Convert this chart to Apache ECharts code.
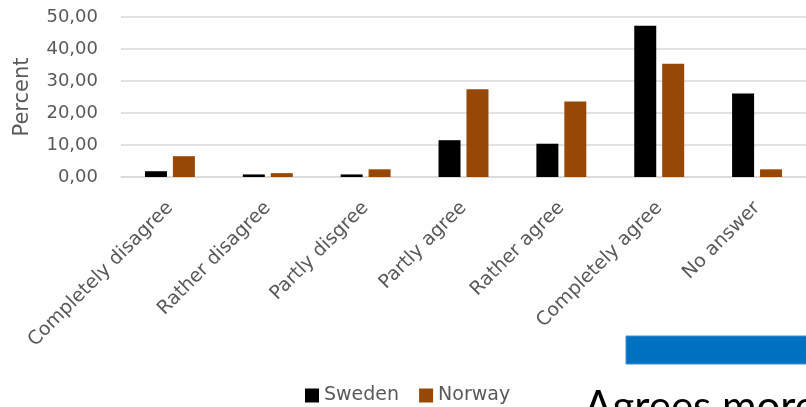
<!DOCTYPE html>
<html><head><meta charset="utf-8">
<script src="https://cdn.jsdelivr.net/npm/echarts@6/dist/echarts.min.js"></script>
<style>html,body{margin:0;padding:0;background:#fff;}#c{width:806px;height:407px;}</style>
</head><body><div id="c"></div>
<script>
var categories = ["Completely disagree","Rather disagree","Partly disgree","Partly agree","Rather agree","Completely agree","No answer"];
var sweden = [1.8, 0.8, 0.8, 11.5, 10.4, 47.3, 26.1];
var norway = [6.5, 1.2, 2.4, 27.4, 23.6, 35.4, 2.4];
var seriesNames = ["Sweden","Norway"];
var yTicks = {min:0, max:50, interval:10};

var font = "DejaVu Sans";
var chart = echarts.init(document.getElementById('c'), null, {renderer:'canvas'});
chart.setOption({
  animation:false,
  textStyle:{fontFamily:font},
  grid:{left:121, top:17, width:691, height:160, containLabel:false},
  legend:{
    data:seriesNames, left:300, top:381, itemWidth:14, itemHeight:14, itemGap:20,
    icon:'rect', textStyle:{fontFamily:font, fontSize:19, color:'#595959'}
  },
  xAxis:{
    type:'category', data:categories,
    axisTick:{show:false},
    axisLine:{lineStyle:{color:'#D9D9D9', width:1.5}},
    axisLabel:{rotate:45, fontSize:19, color:'#595959', margin:28, interval:0, fontFamily:font}
  },
  yAxis:{
    type:'value', min:yTicks.min, max:yTicks.max, interval:yTicks.interval,
    name:'Percent', nameLocation:'middle', nameGap:88, nameRotate:90,
    nameTextStyle:{fontSize:21, color:'#595959', fontFamily:font},
    axisLine:{show:false}, axisTick:{show:false},
    splitLine:{lineStyle:{color:'#D9D9D9', width:1.5}},
    axisLabel:{fontSize:18, color:'#595959', margin:23, fontFamily:font,
      formatter:function(v){return v.toFixed(2).replace('.',',');}}
  },
  series:[
    {name:seriesNames[0], type:'bar', data:sweden, barWidth:22, barGap:'27%',
     itemStyle:{color:'#000000'}},
    {name:seriesNames[1], type:'bar', data:norway, barWidth:22, barGap:'27%',
     itemStyle:{color:'#974706'}}
  ],
  graphic:[
    {type:'rect', shape:{x:626, y:336, width:190, height:28}, style:{fill:'#0070C0', stroke:'#3d8fd6', lineWidth:1}},
    {type:'text', left:584, top:386, style:{text:'Agrees more', font:'42px Lato', fill:'#000'}}
  ]
});
</script></body></html>
